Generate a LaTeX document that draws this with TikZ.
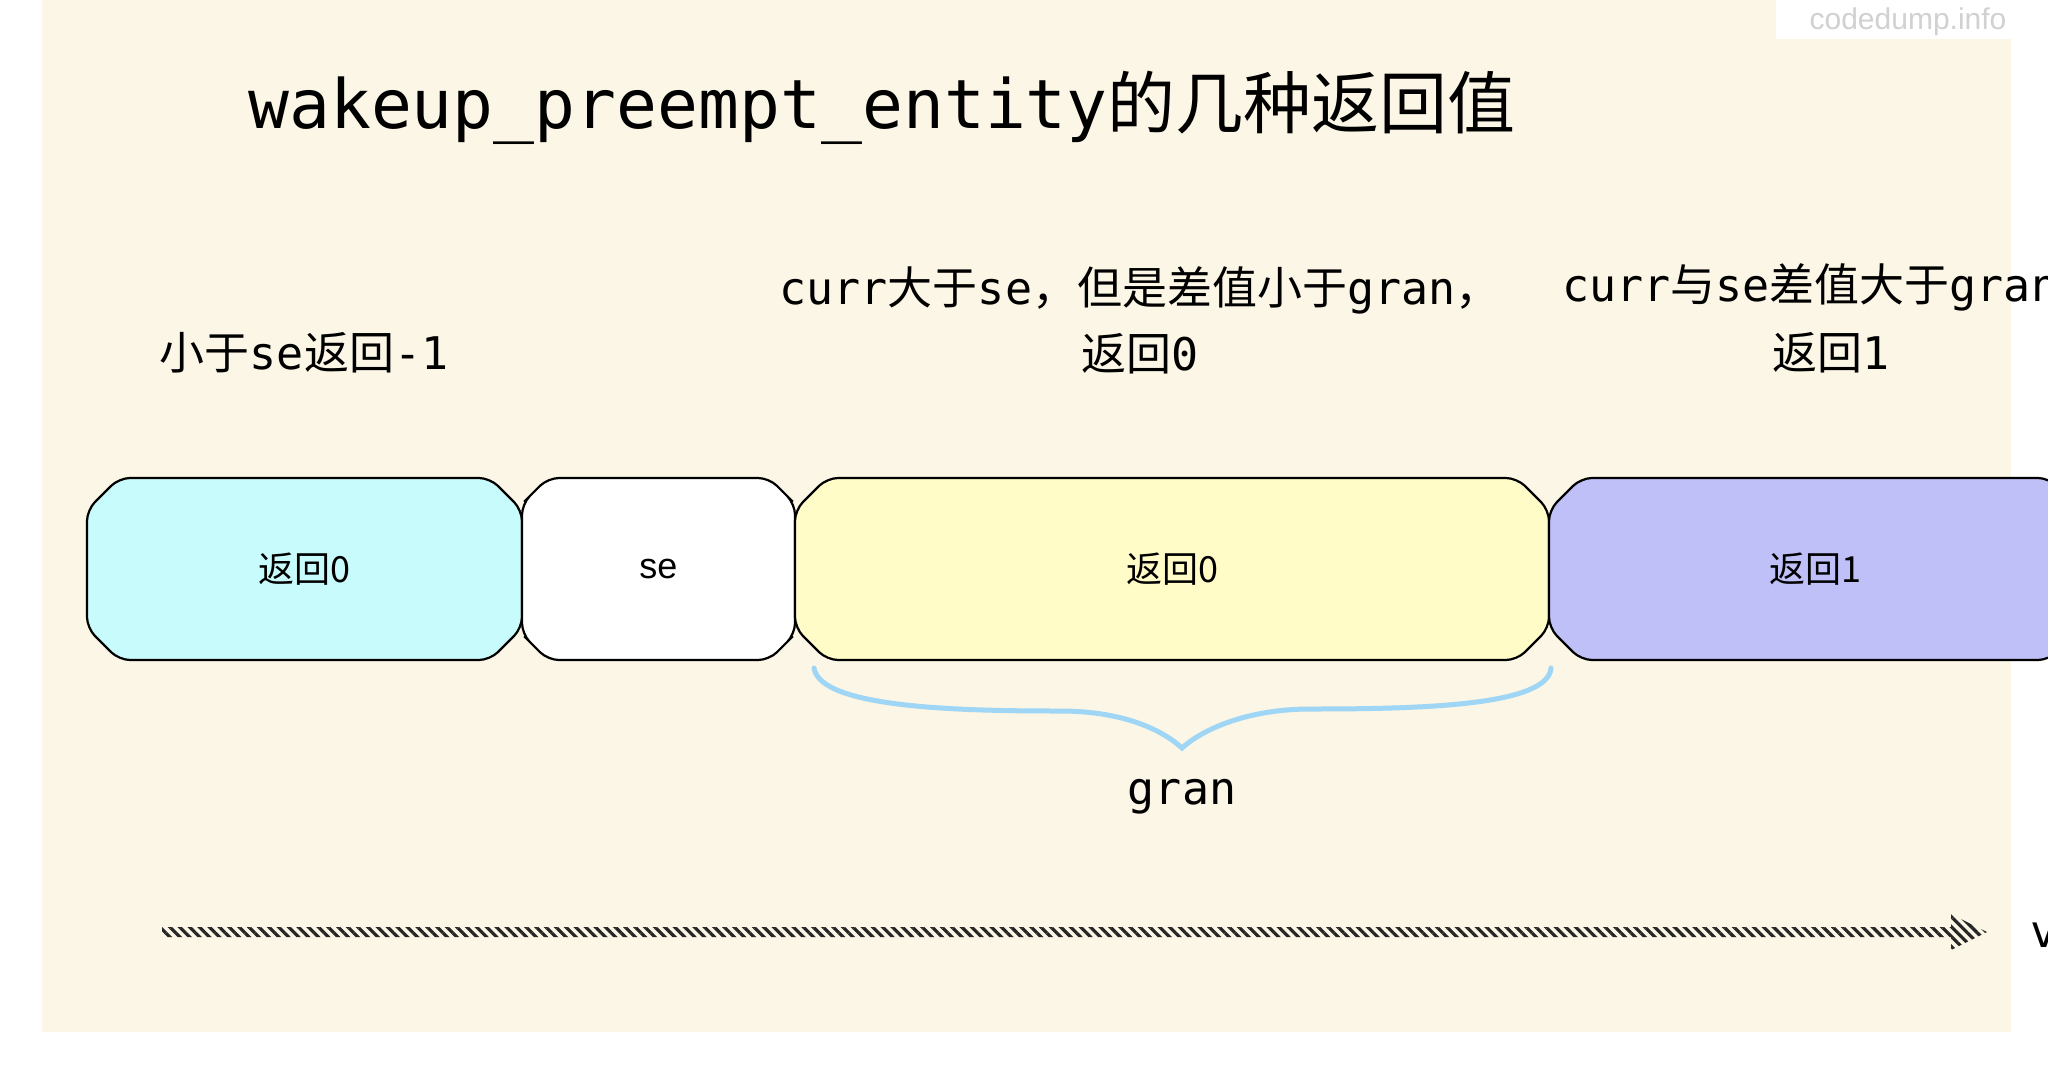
\documentclass[tikz,border=0pt]{standalone}
\usepackage{fontspec}
\setmonofont{DejaVu Sans Mono}
\newfontfamily\cjk{Noto Sans CJK SC}
\newfontfamily\wmfont{Liberation Sans}
\usetikzlibrary{shapes.misc,patterns.meta}
\newcommand\C[1]{{\cjk #1}}
\definecolor{bgc}{RGB}{251,246,229}
\definecolor{cyanbox}{RGB}{200,252,252}
\definecolor{yellowbox}{RGB}{255,252,200}
\definecolor{violetbox}{RGB}{191,192,248}
\definecolor{bracec}{RGB}{160,214,245}
\begin{document}
\begin{tikzpicture}[x=1pt,y=-1pt,
  seg/.style={chamfered rectangle, chamfered rectangle xsep=16pt, chamfered rectangle ysep=16pt,
    draw=black, line width=2.2pt, rounded corners=11pt, minimum height=182pt, inner sep=0pt, outer sep=0pt,
    font=\cjk\fontsize{36}{40}\selectfont},
  lbl/.style={font=\ttfamily\fontsize{45}{66}\selectfont, inner sep=0pt, align=center},
]
\useasboundingbox (0,0) rectangle (2048,1074);
\clip (0,0) rectangle (2048,1074);
\fill[white] (0,0) rectangle (2048,1074);
\fill[bgc] (42,0) rectangle (2011,1032);
% watermark
\fill[white] (1776,0) rectangle (2024,39);
\node[font=\wmfont\fontsize{30}{30}\selectfont, text=black!18, inner sep=0pt] (wm) at (1908,22) {codedump.info};
% title
\node[anchor=west, inner sep=0pt, font=\ttfamily\fontsize{68}{80}\selectfont] (title) at (248,108)
  {wakeup\_preempt\_entity\C{的几种返回值}};
% labels
\node[lbl] (l1) at (304,353) {\C{小于}se\C{返回}-1};
\node[lbl] (l2) at (1140,320) {curr\C{大于}se\C{，但是差值小于}gran\C{，}\\\C{返回}0};
\node[lbl, anchor=west] (l3a) at (1562,287) {curr\C{与}se\C{差值大于}gran};
\node[lbl] (l3b) at (1831,353) {\C{返回}1};
% boxes
\node[seg, fill=cyanbox, minimum width=435pt] (b1) at (304.5,569) {返回0};
\node[seg, fill=white, minimum width=273pt] (b2) at (658.5,569) {{\wmfont se}};
\node[seg, fill=yellowbox, minimum width=754pt] (b3) at (1172,569) {返回0};
\node[seg, fill=violetbox, minimum width=532pt] (b4) at (1815,569) {返回1};
% brace
\coordinate (bl) at (814,668);
\coordinate (bt) at (1182,748);
\coordinate (br) at (1551,668);
\draw[bracec, line width=5pt, line cap=round]
  (bl) .. controls (820,708) and (960,711) .. (1060,711)
       .. controls (1120,711) and (1160,728) .. (bt)
       .. controls (1204,728) and (1250,709) .. (1310,709)
       .. controls (1420,709) and (1548,706) .. (br);
\node[lbl] (gran) at (1182,797) {gran};
% axis arrow
\coordinate (a0) at (162,932);
\coordinate (a1) at (1987,932);
\fill[pattern={Lines[angle=-45,distance=7pt,line width=3.2pt]}, pattern color=black!85]
  (162,927) -- (1951,927) -- (1951,914) -- (a1) -- (1951,950) -- (1951,937) -- (162,937) -- cycle;
\node[lbl, anchor=west] (v) at (2030,935) {v};
\end{tikzpicture}
\end{document}
